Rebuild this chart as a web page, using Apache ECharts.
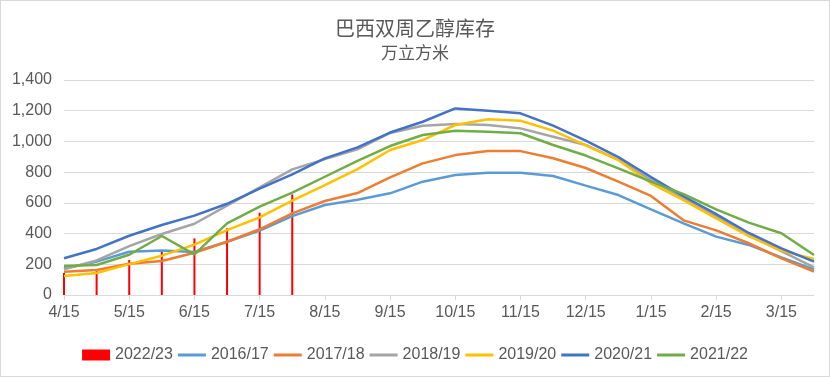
<!DOCTYPE html>
<html>
<head>
<meta charset="utf-8">
<script src="https://cdn.jsdelivr.net/npm/echarts@6/dist/echarts.min.js"></script>
<style>
html,body{margin:0;padding:0;background:#fff;}
#c{width:828px;height:375px;border:1px solid #d9d9d9;}
</style>
</head>
<body>
<div id="c"></div>
<script>
var categories = ['4/15','5/1','5/15','6/1','6/15','7/1','7/15','8/1','8/15','9/1','9/15','10/1','10/15','11/1','11/15','12/1','12/15','1/1','1/15','2/1','2/15','3/1','3/15','4/1'];
var s2022 = [143,155,228,282,369,434,536,655];
var s2016 = [172,217,282,290,280,347,419,514,586,620,662,738,781,796,796,775,712,651,558,467,380,326,245,167];
var s2017 = [152,163,204,221,275,347,428,532,612,664,766,857,911,937,937,890,827,738,645,486,421,337,239,152];
var s2018 = [168,225,318,397,464,582,701,818,885,948,1055,1102,1113,1107,1085,1031,977,880,750,630,510,388,285,180];
var s2019 = [124,143,201,256,328,423,506,614,716,820,944,1009,1107,1144,1135,1070,975,879,727,618,499,384,289,234];
var s2020 = [239,300,386,456,517,594,693,785,890,961,1058,1128,1215,1199,1183,1103,1005,898,768,643,527,404,304,217];
var s2021 = [189,195,262,384,265,467,575,666,770,873,970,1042,1070,1063,1053,977,908,825,738,657,558,471,402,260];
var names = ['2022/23','2016/17','2017/18','2018/19','2019/20','2020/21','2021/22'];
var lineColors = ['#5B9BD5','#ED7D31','#A5A5A5','#FFC000','#4472C4','#70AD47'];
var lineData = [s2016,s2017,s2018,s2019,s2020,s2021];

var chart = echarts.init(document.getElementById('c'));
var series = [{
  name: names[0], type: 'bar', data: s2022, barWidth: 2,
  itemStyle: {color: '#FF0000'}, z: 1
}];
for (var i = 0; i < lineData.length; i++) {
  series.push({
    name: names[i+1], type: 'line', data: lineData[i], symbol: 'none',
    lineStyle: {color: lineColors[i], width: 2.5}, itemStyle: {color: lineColors[i]}, z: 2
  });
}
var lineIcon = 'path://M0,0L28,0L28,3L0,3Z';
chart.setOption({
  animation: false,
  title: {
    text: '巴西双周乙醇库存', subtext: '万立方米', left: 'center', top: 12, itemGap: 6,
    textStyle: {fontFamily: 'Noto Sans CJK SC', fontSize: 20, fontWeight: 'normal', color: '#595959'},
    subtextStyle: {fontFamily: 'Noto Sans CJK SC', fontSize: 17, color: '#595959'}
  },
  grid: {left: 63, right: 15, top: 79, bottom: 81},
  legend: {
    top: 341, left: 'center', itemWidth: 28, itemHeight: 11, itemGap: 5, symbolKeepAspect: true,
    textStyle: {color: '#595959', fontSize: 16, fontFamily: 'Liberation Sans'},
    data: names.map(function(n, k){ return k === 0 ? {name: n, icon: 'rect'} : {name: n, icon: lineIcon}; })
  },
  xAxis: {
    type: 'category', data: categories, boundaryGap: false,
    axisLine: {lineStyle: {color: '#d9d9d9', width: 1}},
    axisTick: {interval: 1, length: 5, lineStyle: {color: '#d9d9d9'}},
    axisLabel: {interval: 1, color: '#595959', fontSize: 16, margin: 10, fontFamily: 'Liberation Sans'}
  },
  yAxis: {
    type: 'value', min: 0, max: 1400, interval: 200,
    axisLine: {show: false}, axisTick: {show: false},
    splitLine: {lineStyle: {color: '#d9d9d9', width: 1}},
    axisLabel: {color: '#595959', fontSize: 16, margin: 12, fontFamily: 'Liberation Sans',
      formatter: function(v){ return v.toLocaleString('en-US'); }}
  },
  series: series
});
</script>
</body>
</html>
